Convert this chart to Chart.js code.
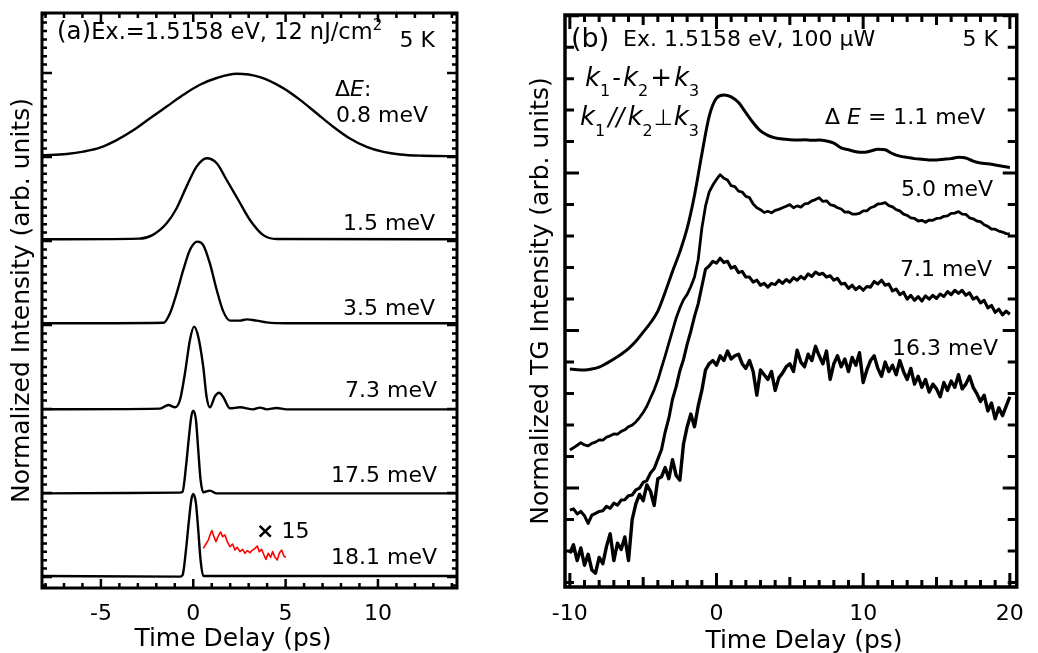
<!DOCTYPE html>
<html lang="en">
<head>
<meta charset="UTF-8">
<title>TG traces vs. time delay</title>
<script src="https://cdn.jsdelivr.net/npm/chart.js@4.4.1/dist/chart.umd.min.js"></script>
<style>
  body { margin: 0; background: #fff; }
  .wrap { position: relative; width: 1038px; height: 653px; }
  #chartA { position: absolute; left: 0; top: 0; }
  #chartB { position: absolute; left: 510px; top: 0; }
</style>
</head>
<body>
<div class="wrap">
  <canvas id="chartA" width="470" height="653"></canvas>
  <canvas id="chartB" width="528" height="653"></canvas>
</div>
<script>
const FONT = '"DejaVu Sans", "Liberation Sans", Arial, sans-serif';
const font = (size, style) => (style ? style + ' ' : '') + size + 'px ' + FONT;

// ---------- panel (a): normalized intensity, traces offset by 1 ----------
const xRangeA = [-8.19, 14.28];
const yRangeA = [-0.131, 6.714];

// dE = 0.8 meV
const tA1 = [-8.19, -6.85, -5.95, -5.05, -4.15, -3.23, -2.34, -1.44, -0.54, 0.36, 1.27, 2.35, 3.61, 4.87, 5.78, 6.68, 7.58, 8.48, 9.39, 10.3, 11.2, 12.45, 13.72, 14.28];
const yA1 = [5.02, 5.036, 5.063, 5.11, 5.2, 5.32, 5.46, 5.6, 5.74, 5.86, 5.94, 5.99, 5.95, 5.82, 5.68, 5.52, 5.36, 5.22, 5.12, 5.06, 5.03, 5.015, 5.01, 5.01];
// dE = 1.5 meV
const tA2 = [-8.19, -2.93, -2.21, -1.44, -0.9, -0.36, 0.18, 0.73, 1.27, 1.81, 2.44, 3.07, 3.79, 4.51, 14.28];
const yA2 = [4.02, 4.028, 4.07, 4.21, 4.39, 4.65, 4.885, 4.985, 4.925, 4.726, 4.488, 4.25, 4.07, 4.024, 4.02];
// dE = 3.5 meV
const tA3 = [-8.19, -1.6, -1.26, -0.9, -0.54, -0.18, 0.22, 0.54, 0.9, 1.27, 1.63, 1.99, 2.53, 2.89, 3.43, 3.97, 5.05, 14.28];
const yA3 = [3.02, 3.027, 3.139, 3.377, 3.655, 3.893, 3.992, 3.952, 3.734, 3.417, 3.159, 3.052, 3.052, 3.067, 3.052, 3.031, 3.02, 3.02];
// dE = 7.3 meV
const tA4 = [-8.19, -1.8, -1.35, -0.99, -0.72, -0.45, -0.18, 0.04, 0.27, 0.54, 0.72, 0.9, 1.18, 1.41, 1.63, 1.99, 2.53, 3.25, 3.61, 3.97, 4.51, 5.05, 14.28];
const yA4 = [1.996, 2.004, 2.048, 2.02, 2.107, 2.425, 2.821, 2.98, 2.861, 2.504, 2.147, 2.02, 2.155, 2.194, 2.139, 2.008, 2.02, 1.996, 2.016, 1.996, 2.012, 1.996, 1.996];
// dE = 17.5 meV
const tA5 = [-8.19, -0.72, -0.576, -0.395, -0.25, -0.107, 0, 0.146, 0.27, 0.397, 0.54, 0.9, 1.26, 14.28];
const yA5 = [0.996, 1.004, 1.016, 1.314, 1.631, 1.909, 1.98, 1.869, 1.512, 1.155, 1.008, 1.028, 0.996, 0.996];
// dE = 18.1 meV
const tA6 = [-8.19, -0.72, -0.576, -0.395, -0.25, -0.107, 0, 0.146, 0.27, 0.397, 0.54, 0.9, 14.28];
const yA6 = [0.012, 0.004, 0.024, 0.321, 0.639, 0.917, 0.988, 0.877, 0.56, 0.2, 0.012, 0.012, 0.012];
// dE = 18.1 meV tail, x15 (red)
const tA6x15 = [0.543, 0.688, 0.814, 0.94, 1.012, 1.12, 1.229, 1.355, 1.482, 1.59, 1.716, 1.842, 1.987, 2.131, 2.258, 2.384, 2.528, 2.673, 2.799, 2.925, 3.07, 3.214, 3.34, 3.467, 3.575, 3.701, 3.828, 3.936, 4.062, 4.189, 4.297, 4.423, 4.55, 4.658, 4.784, 4.91, 5.019];
const yA6x15 = [0.341, 0.393, 0.44, 0.52, 0.552, 0.48, 0.421, 0.488, 0.536, 0.48, 0.5, 0.421, 0.361, 0.393, 0.321, 0.353, 0.302, 0.329, 0.282, 0.313, 0.29, 0.321, 0.341, 0.369, 0.302, 0.329, 0.262, 0.21, 0.282, 0.234, 0.302, 0.234, 0.202, 0.282, 0.321, 0.246, 0.234];

// runs: [text, size, style, dy, extra gap after]
const labelsA = [
  {x: 57, y: 39, runs: [['(a)', 24.5], ['Ex.=1.5158 eV, 12 nJ/cm', 22.5], ['2', 15, '', -9]]},
  {x: 435, y: 47, align: 'right', runs: [['5 K', 22]]},
  {x: 335, y: 96, runs: [['\u0394', 22], ['E', 22, 'italic'], [':', 22]]},
  {x: 336, y: 122, runs: [['0.8 meV', 22]]},
  {x: 435, y: 230, align: 'right', runs: [['1.5 meV', 22]]},
  {x: 435, y: 315, align: 'right', runs: [['3.5 meV', 22]]},
  {x: 437, y: 397, align: 'right', runs: [['7.3 meV', 22]]},
  {x: 437, y: 482, align: 'right', runs: [['17.5 meV', 22]]},
  {x: 437, y: 564, align: 'right', runs: [['18.1 meV', 22]]},
  {x: 256, y: 538, runs: [['\u00d7', 22, 'bold'], [' 15', 22]]},
  {x: 233, y: 646, align: 'center', runs: [['Time Delay (ps)', 25]]}
];

// ---------- panel (b): normalized TG intensity ----------
const xRangeB = [-10.33, 20.47];
const yRangeB = [-3.14, 15.02];

// dE = 1.1 meV (0.5 ps grid)
const tB1 = [-10, -9.5, -9, -8.5, -8, -7.5, -7, -6.5, -6, -5.5, -5, -4.5, -4, -3.5, -3, -2.5, -2, -1.5, -1, -0.5,
  0, 0.5, 1, 1.5, 2, 2.5, 3, 3.5, 4, 4.5, 5, 5.5, 6, 6.5, 7, 7.5, 8, 8.5, 9, 9.5,
  10, 10.5, 11, 11.5, 12, 12.5, 13, 13.5, 14, 14.5, 15, 15.5, 16, 16.5, 17, 17.5, 18, 18.5, 19, 19.5, 20];
const yB1 = [3.78, 3.76, 3.75, 3.78, 3.84, 3.96, 4.1, 4.25, 4.43, 4.66, 4.95, 5.25, 5.62, 6.22, 6.88, 7.5, 8.25, 9.3, 10.6, 11.8,
  12.38, 12.48, 12.42, 12.24, 11.92, 11.6, 11.34, 11.2, 11.12, 11.08, 11.06, 11.05, 11.06, 11.04, 11.05, 11.02, 10.95, 10.8, 10.74, 10.68,
  10.66, 10.7, 10.76, 10.74, 10.62, 10.54, 10.5, 10.46, 10.44, 10.42, 10.42, 10.44, 10.46, 10.5, 10.48, 10.38, 10.32, 10.3, 10.26, 10.22, 10.18];

// 0.25 ps grid for the noisier traces
const tB = [-10, -9.75, -9.5, -9.25, -9, -8.75, -8.5, -8.25, -8, -7.75, -7.5, -7.25, -7, -6.75, -6.5, -6.25,
  -6, -5.75, -5.5, -5.25, -5, -4.75, -4.5, -4.25, -4, -3.75, -3.5, -3.25, -3, -2.75, -2.5, -2.25,
  -2, -1.75, -1.5, -1.25, -1, -0.75, -0.5, -0.25, 0, 0.25, 0.5, 0.75, 1, 1.25, 1.5, 1.75,
  2, 2.25, 2.5, 2.75, 3, 3.25, 3.5, 3.75, 4, 4.25, 4.5, 4.75, 5, 5.25, 5.5, 5.75,
  6, 6.25, 6.5, 6.75, 7, 7.25, 7.5, 7.75, 8, 8.25, 8.5, 8.75, 9, 9.25, 9.5, 9.75,
  10, 10.25, 10.5, 10.75, 11, 11.25, 11.5, 11.75, 12, 12.25, 12.5, 12.75, 13, 13.25, 13.5, 13.75,
  14, 14.25, 14.5, 14.75, 15, 15.25, 15.5, 15.75, 16, 16.25, 16.5, 16.75, 17, 17.25, 17.5, 17.75,
  18, 18.25, 18.5, 18.75, 19, 19.25, 19.5, 19.75, 20];
// dE = 5.0 meV
const yB2 = [1.21, 1.28, 1.36, 1.44, 1.37, 1.34, 1.42, 1.46, 1.53, 1.52, 1.62, 1.66, 1.72, 1.71, 1.8, 1.85,
  1.95, 2.0, 2.1, 2.24, 2.4, 2.6, 2.86, 3.12, 3.43, 3.82, 4.2, 4.6, 5.0, 5.4, 5.72, 5.98,
  6.15, 6.4, 6.7, 7.25, 8.25, 8.95, 9.4, 9.62, 9.8, 9.95, 9.84, 9.78, 9.6, 9.57, 9.43, 9.4,
  9.26, 9.22, 9.02, 8.9, 8.84, 8.75, 8.79, 8.74, 8.82, 8.85, 8.9, 8.95, 9.0, 8.9, 8.96, 8.92,
  9.02, 9.04, 9.12, 9.16, 9.22, 9.1, 9.12, 9.0, 8.97, 8.9, 8.86, 8.76, 8.77, 8.7, 8.7, 8.72,
  8.8, 8.8, 8.9, 8.94, 9.02, 9.03, 9.06, 8.97, 8.93, 8.84, 8.8, 8.7, 8.66, 8.58, 8.56, 8.48,
  8.5, 8.44, 8.51, 8.5, 8.56, 8.57, 8.63, 8.64, 8.72, 8.73, 8.78, 8.7, 8.69, 8.58, 8.55, 8.48,
  8.46, 8.36, 8.31, 8.22, 8.22, 8.16, 8.13, 8.08, 8.07];
// dE = 7.1 meV
const yB3 = [-0.7, -0.66, -0.82, -0.74, -0.88, -1.12, -0.86, -0.8, -0.74, -0.72, -0.58, -0.64, -0.48, -0.54, -0.38, -0.37,
  -0.24, -0.22, -0.06, 0.0, 0.18, 0.24, 0.48, 0.62, 0.92, 1.22, 1.78, 2.22, 2.82, 3.22, 3.72, 4.08,
  4.57, 4.98, 5.45, 5.85, 6.4, 6.95, 7.05, 7.2, 7.14, 7.3, 7.16, 7.2, 6.98, 7.04, 6.84, 6.88,
  6.7, 6.7, 6.54, 6.6, 6.44, 6.5, 6.38, 6.5, 6.46, 6.6, 6.5, 6.62, 6.54, 6.68, 6.6, 6.72,
  6.64, 6.8, 6.72, 6.86, 6.78, 6.82, 6.7, 6.74, 6.6, 6.66, 6.48, 6.5, 6.34, 6.44, 6.3, 6.4,
  6.28, 6.4, 6.38, 6.56, 6.48, 6.6, 6.44, 6.48, 6.26, 6.32, 6.14, 6.22, 6.0, 6.12, 5.96, 6.08,
  5.94, 6.1, 6.0, 6.12, 6.02, 6.16, 6.08, 6.24, 6.14, 6.28, 6.18, 6.28, 6.12, 6.2, 6.0, 6.06,
  5.88, 5.96, 5.72, 5.8, 5.58, 5.68, 5.5, 5.62, 5.52];
// dE = 16.3 meV
const yB4 = [-2.07, -1.8, -2.3, -1.9, -2.45, -2.1, -2.6, -2.7, -2.2, -2.4, -1.85, -1.45, -2.3, -1.75, -1.95, -1.55,
  -2.3, -1.0, -0.5, -0.2, -0.4, 0.1, -0.1, -0.55, 0.3, 0.36, 0.65, 0.3, 0.9, 0.4, 0.25, 1.4,
  1.95, 2.35, 1.95, 2.6, 3.1, 3.75, 3.95, 4.05, 3.9, 4.2, 4.05, 4.35, 4.1, 4.2, 4.25, 3.95,
  3.8, 4.05, 3.7, 2.95, 3.75, 3.6, 3.45, 3.7, 3.1, 3.5, 3.65, 3.85, 3.95, 3.7, 4.38, 4.0,
  3.85, 4.25, 4.05, 4.5, 4.2, 3.95, 4.35, 3.45, 3.95, 4.2, 3.85, 4.1, 3.7, 4.15, 3.9, 4.3,
  3.35, 3.75, 4.05, 4.2, 3.8, 3.55, 4.0, 3.7, 3.9, 3.6, 4.05, 3.7, 3.45, 3.8, 3.3, 3.55,
  3.2, 3.45, 3.05, 3.3, 3.15, 2.9, 3.35, 3.1, 3.4, 3.2, 3.6, 3.15, 3.3, 3.55, 3.2, 3.0,
  2.75, 2.95, 2.45, 2.7, 2.2, 2.55, 2.3, 2.6, 2.9];

const labelsB = [
  {x: 61, y: 47, runs: [['(b)', 27]]},
  {x: 113, y: 46, runs: [['Ex. 1.5158 eV, 100 \u03bcW', 22]]},
  {x: 488, y: 46, align: 'right', runs: [['5 K', 22]]},
  {x: 75, y: 86, runs: [['k', 26, 'italic'], ['1', 16, '', 10, 2], ['-', 24, '', 0, 2], ['k', 26, 'italic'],
    ['2', 16, '', 10, 2], ['+', 26, '', 0, 2], ['k', 26, 'italic'], ['3', 16, '', 10]]},
  {x: 70, y: 125, runs: [['k', 26, 'italic'], ['1', 16, '', 11, 3], ['//', 24, 'italic', 0, 3], ['k', 26, 'italic'],
    ['2', 16, '', 11, 1], ['\u22a5', 22, '', 0, 1], ['k', 26, 'italic'], ['3', 16, '', 11]]},
  {x: 315, y: 124, runs: [['\u0394 ', 22], ['E', 22, 'italic'], [' = 1.1 meV', 22]]},
  {x: 483, y: 196, align: 'right', runs: [['5.0 meV', 22]]},
  {x: 482, y: 276, align: 'right', runs: [['7.1 meV', 22]]},
  {x: 488, y: 355, align: 'right', runs: [['16.3 meV', 22]]},
  {x: 294, y: 648, align: 'center', runs: [['Time Delay (ps)', 25]]}
];

function pts(xs, ys) {
  return xs.map((x, i) => ({x: x, y: ys[i]}));
}

function drawRuns(ctx, lab) {
  let w = 0;
  lab.runs.forEach(r => { ctx.font = font(r[1], r[2]); w += ctx.measureText(r[0]).width + (r[4] || 0); });
  let cx = lab.align === 'right' ? lab.x - w : lab.align === 'center' ? lab.x - w / 2 : lab.x;
  lab.runs.forEach(r => {
    ctx.font = font(r[1], r[2]);
    ctx.fillText(r[0], cx, lab.y + (r[3] || 0));
    cx += ctx.measureText(r[0]).width + (r[4] || 0);
  });
}

function tickLen(i, spec) {
  let len = spec.len[0];
  spec.every.forEach((n, k) => { if (i % n === 0) len = spec.len[k + 1]; });
  return len;
}

// frame with inward ticks on all four sides + text labels
const framePlugin = {
  id: 'frame',
  afterDraw(chart, args, opts) {
    const ctx = chart.ctx, a = chart.chartArea;
    const sx = chart.scales.x, sy = chart.scales.y;
    ctx.save();
    ctx.strokeStyle = '#000';
    ctx.lineWidth = opts.tickWidth;
    ctx.beginPath();
    const xt = opts.xTicks, yt = opts.yTicks;
    for (let i = Math.ceil(sx.min / xt.step - 1e-6); i * xt.step <= sx.max + 1e-6; i++) {
      const p = sx.getPixelForValue(i * xt.step), len = tickLen(i, xt);
      ctx.moveTo(p, a.bottom); ctx.lineTo(p, a.bottom - len);
      ctx.moveTo(p, a.top); ctx.lineTo(p, a.top + len);
    }
    for (let i = Math.ceil(sy.min / yt.step - 1e-6); i * yt.step <= sy.max + 1e-6; i++) {
      const p = sy.getPixelForValue(i * yt.step), len = tickLen(i, yt);
      ctx.moveTo(a.left, p); ctx.lineTo(a.left + len, p);
      ctx.moveTo(a.right, p); ctx.lineTo(a.right - len, p);
    }
    ctx.stroke();
    ctx.lineWidth = opts.frameWidth;
    ctx.strokeRect(a.left, a.top, a.right - a.left, a.bottom - a.top);
    ctx.fillStyle = '#000';
    ctx.textBaseline = 'alphabetic';
    ctx.textAlign = 'left';
    opts.labels.forEach(l => drawRuns(ctx, l));
    ctx.restore();
  }
};

function line(data, color, width, smooth) {
  return {
    data: data, borderColor: color, borderWidth: width, pointRadius: 0,
    borderJoinStyle: 'round', fill: false,
    cubicInterpolationMode: smooth ? 'monotone' : 'default', tension: 0
  };
}

function makeChart(id, c) {
  return new Chart(document.getElementById(id), {
    type: 'line',
    data: {datasets: c.datasets},
    plugins: [framePlugin],
    options: {
      responsive: false,
      animation: false,
      devicePixelRatio: 1,
      layout: {padding: {top: c.padTop, right: c.padRight, left: 0, bottom: 0}},
      plugins: {
        legend: {display: false},
        tooltip: {enabled: false},
        frame: c.frame
      },
      scales: {
        x: {
          type: 'linear', min: c.xRange[0], max: c.xRange[1],
          afterFit: s => { s.height = c.xAxisHeight; },
          grid: {display: false, drawTicks: false},
          border: {display: false},
          ticks: {
            stepSize: 1, autoSkip: false, includeBounds: false, maxRotation: 0, padding: c.tickPad,
            color: '#000', font: {family: FONT, size: 22},
            callback: v => (Math.abs(v % c.labelStep) < 1e-6 ? String(v) : '')
          }
        },
        y: {
          type: 'linear', min: c.yRange[0], max: c.yRange[1],
          afterFit: s => { s.width = c.yAxisWidth; },
          grid: {display: false, drawTicks: false},
          border: {display: false},
          ticks: {display: false},
          title: {
            display: true, text: c.yTitle, color: '#000',
            font: {family: FONT, size: 25}, padding: {top: c.yTitlePad, bottom: 0}
          }
        }
      }
    }
  });
}

makeChart('chartA', {
  xRange: xRangeA, yRange: yRangeA, padTop: 13, padRight: 13,
  xAxisHeight: 65, yAxisWidth: 42, tickPad: 13, labelStep: 5,
  yTitle: 'Normalized Intensity (arb. units)', yTitlePad: 7,
  datasets: [
    line(pts(tA1, yA1), '#000', 2.4, true),
    line(pts(tA2, yA2), '#000', 2.4, true),
    line(pts(tA3, yA3), '#000', 2.4, true),
    line(pts(tA4, yA4), '#000', 2.4, true),
    line(pts(tA5, yA5), '#000', 2.4, true),
    line(pts(tA6, yA6), '#000', 2.4, true),
    line(pts(tA6x15, yA6x15), '#ff0000', 1.6, false)
  ],
  frame: {
    tickWidth: 2.5, frameWidth: 3,
    xTicks: {step: 1, every: [5], len: [5, 9]},
    yTicks: {step: 0.1, every: [10], len: [5, 10]},
    labels: labelsA
  }
});

makeChart('chartB', {
  xRange: xRangeB, yRange: yRangeB, padTop: 15, padRight: 11,
  xAxisHeight: 66, yAxisWidth: 55, tickPad: 14, labelStep: 10,
  yTitle: 'Normalized TG Intensity (arb. units)', yTitlePad: 16,
  datasets: [
    line(pts(tB1, yB1), '#000', 3, true),
    line(pts(tB, yB2), '#000', 2.8, false),
    line(pts(tB, yB3), '#000', 3.1, false),
    line(pts(tB, yB4), '#000', 3.4, false)
  ],
  frame: {
    tickWidth: 3, frameWidth: 3.5,
    xTicks: {step: 1, every: [5, 10], len: [7, 10, 14]},
    yTicks: {step: 1, every: [5], len: [9, 14]},
    labels: labelsB
  }
});
</script>
</body>
</html>
